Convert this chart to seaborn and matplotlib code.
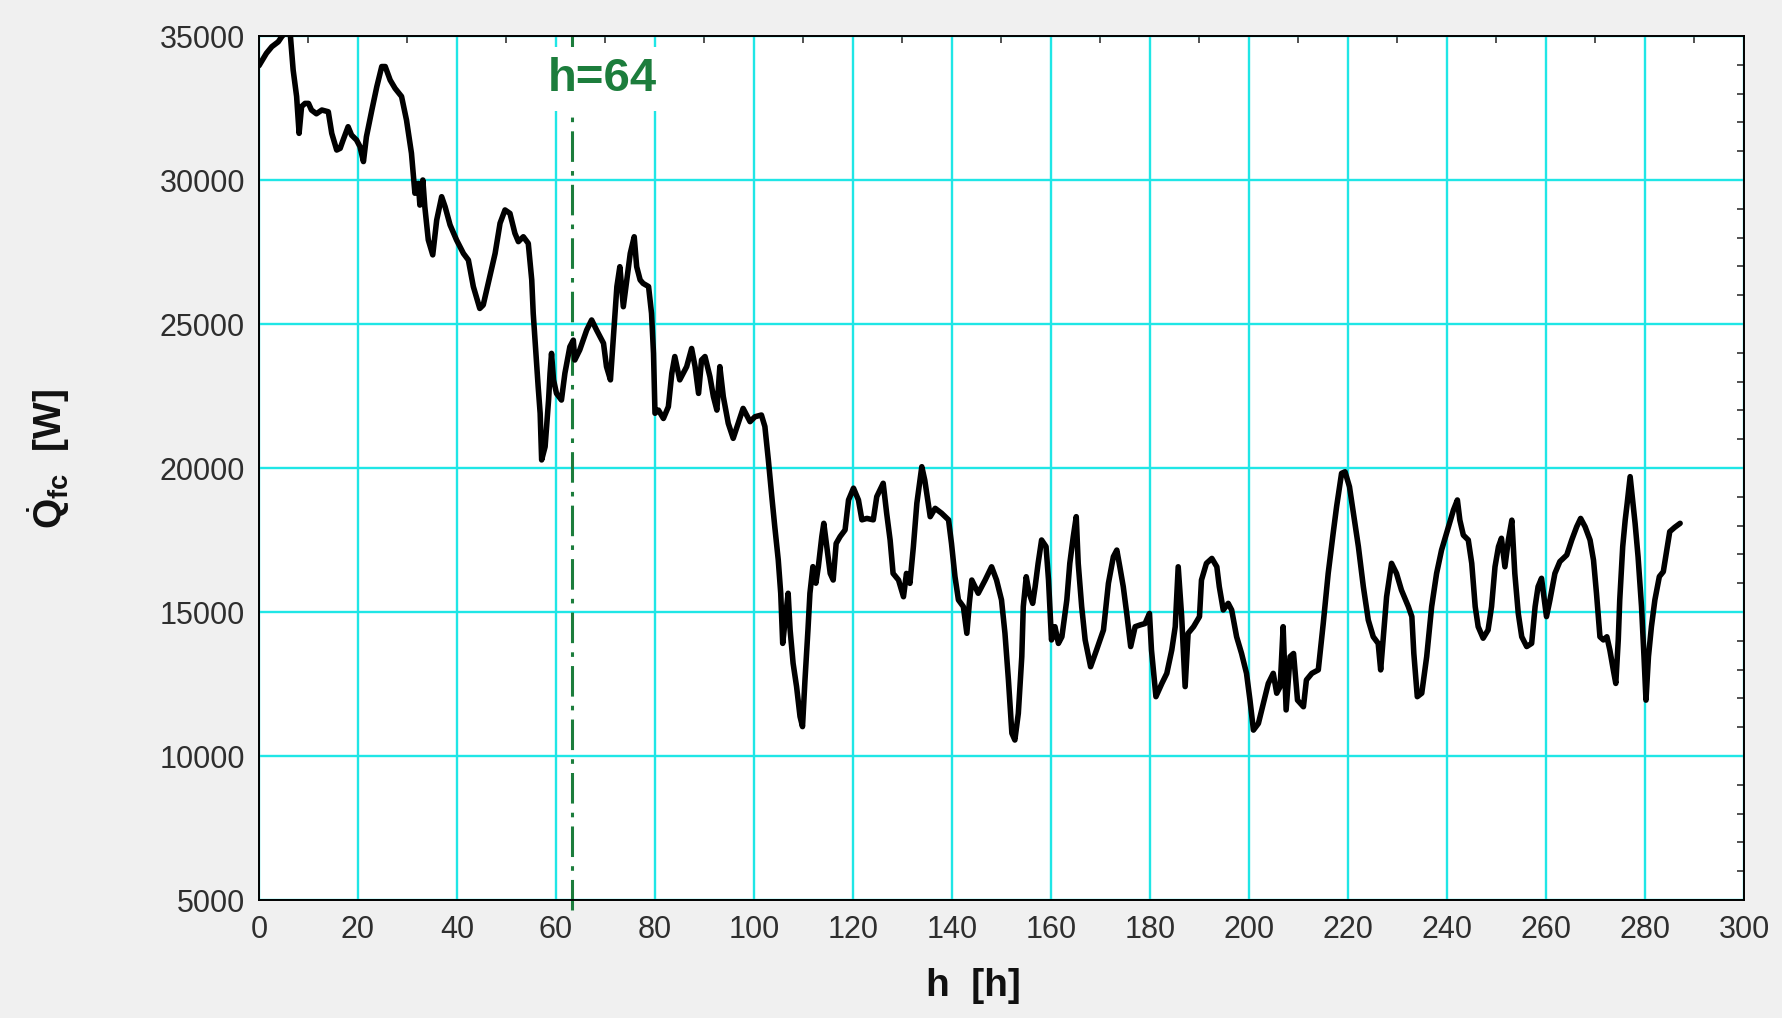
import matplotlib
matplotlib.use("Agg")
import matplotlib.pyplot as plt
from matplotlib.ticker import MultipleLocator
import seaborn as sns
import pandas as pd

# ---- data ----
hours = [0, 1.5, 2.6, 3.9, 4.6, 5.5, 6.3, 6.9, 7.6, 8.1, 8.6, 9.3, 10.0, 10.6, 11.6, 12.7, 14.0,
         14.7, 15.7, 16.4, 17.0, 18.0, 18.7, 19.7, 20.4, 21.1, 21.7, 22.8, 23.8, 24.8, 25.5, 26.5,
         27.5, 28.8, 29.8, 30.8, 31.5, 32.2, 32.5, 33.1, 33.5, 34.2, 35.1, 35.9, 36.9, 37.6, 38.6,
         39.9, 41.3, 42.3, 43.3, 44.6, 45.3, 46.3,
         47.7, 48.7, 49.7, 50.7, 51.7, 52.4, 53.4, 54.4, 55.1, 55.4, 55.8, 56.4, 56.8, 57.1, 57.8,
         58.5, 58.8, 59.1, 59.5, 60.1, 61.1, 61.8, 62.8, 63.5, 63.8, 64.8, 66.2, 67.2, 68.2, 69.6,
         70.2, 71.0, 71.7, 72.3, 72.9, 73.6, 74.3, 75.0, 75.8, 76.3, 77.0, 77.6, 78.7, 79.3, 79.7,
         80.0, 80.7, 81.7, 82.7, 83.4, 84.0, 85.0, 86.4, 87.4, 88.1, 88.8, 89.4, 90.1, 91.1, 91.8,
         92.5, 93.1, 93.8, 94.8, 95.8,
         96.8, 97.8, 99.2, 100.2, 101.5, 102.2, 102.9, 103.6, 104.2, 104.9, 105.4, 105.8, 106.3,
         106.9, 107.3, 107.9, 108.6, 109.3, 109.8, 110.3, 110.9, 111.3, 111.9, 112.5, 113.0, 113.7,
         114.1, 114.7, 115.4, 116.0, 116.6, 117.4, 118.4, 119.1, 120.1, 121.1, 121.8, 122.8, 124.1,
         124.8, 126.1, 126.8, 127.5, 128.1, 129.2, 130.2, 130.8, 131.5, 132.2, 132.9, 133.9, 134.5,
         135.6, 136.6, 137.9, 139.3, 139.9, 140.6, 141.3, 142.3, 143.0, 143.5, 144.0,
         145.3, 146.7, 148.0, 149.0, 150.0, 150.7, 151.4, 152.1, 152.7, 153.4, 154.1, 154.4, 155.0,
         155.6, 156.3, 156.8, 157.4, 158.1, 159.0, 159.5, 160.1, 160.8, 161.5, 162.2, 163.2, 163.8,
         164.5, 165.1, 165.5, 166.2, 166.9, 168.0, 169.2, 170.6, 171.6, 172.6, 173.3, 173.9, 174.6,
         175.3, 176.1, 177.0, 178.0, 179.0, 179.9, 180.3, 181.2, 182.4, 183.4, 184.4, 185.1, 185.7,
         186.4, 187.1, 187.7, 188.8, 190.0, 190.4, 191.4, 192.5, 193.5,
         194.0, 194.8, 195.8, 196.5, 197.5, 198.5, 199.5, 200.2, 200.9, 201.9, 202.9, 203.9, 204.9,
         205.6, 206.3, 206.9, 207.5, 208.3, 209.0, 209.8, 211.0, 211.6, 212.7, 214.0, 215.0, 216.0,
         217.0, 217.7, 218.7, 219.4, 220.3, 221.1, 222.1, 223.1, 224.1, 225.1, 226.1, 226.6, 227.1,
         227.8, 228.8, 229.8, 230.8, 232.2, 232.9, 233.3, 234.0, 234.9, 235.9, 236.9, 237.9, 238.9,
         240.3,
         241.3, 242.1, 242.6, 243.3, 244.3, 245.0, 245.7, 246.3, 247.3, 248.3, 249.0, 249.7, 250.4,
         251.0, 251.7, 252.4, 253.1, 253.7, 254.4, 255.1, 256.1, 257.1, 257.8, 258.4, 259.1, 260.1,
         260.8, 261.8, 262.8, 264.2, 265.2, 266.2, 267.0, 267.9, 268.9, 269.6, 270.2, 270.9, 271.6,
         272.3, 272.9, 273.6, 274.1, 274.6, 274.9, 275.5, 276.0, 276.4, 277.0, 277.5, 278.0, 278.6,
         279.3, 279.8, 280.2, 280.7, 281.3, 282.0, 282.9, 283.7, 284.4, 285.0, 286.0, 287.1]

q_fc = [33970, 34400, 34630, 34800, 34980, 35150, 35100, 33820, 32900, 31620, 32550, 32660, 32660,
        32430, 32300, 32430, 32370, 31620, 31040, 31100, 31390, 31850, 31560, 31390, 31160, 30640,
        31500, 32430, 33240, 33940, 33940, 33470, 33180, 32900, 32080, 30930, 29540, 29880, 29130,
        30000, 29070, 27920, 27400, 28610, 29420, 29070, 28440, 27920, 27450, 27220, 26300, 25540,
        25660, 26410,
        27450, 28500, 28960, 28840, 28150, 27860, 28030, 27800, 26530, 25370, 24330, 22820, 21900,
        20280, 20740, 22360, 23290, 23980, 23060, 22590, 22360, 23290, 24210, 24440, 23750, 24100,
        24790, 25140, 24790, 24330, 23520, 23060, 24790, 26300, 26990, 25600, 26530, 27450, 28030,
        26990, 26530, 26410, 26300, 25370, 23980, 21900, 22010, 21720, 22130, 23290, 23870, 23060,
        23520, 24150, 23520, 22590, 23750, 23870, 23170, 22480, 22010, 23520, 22480, 21550, 21030,
        21550, 22070, 21610, 21780, 21840, 21440, 20280, 19005, 17960, 16810, 15650, 13910, 14720,
        15650, 14375, 13220, 12410, 11370, 11020, 12640, 14375, 15650, 16575, 16000, 16575, 17620,
        18080, 17270, 16340, 16110, 17380, 17620, 17850, 18890, 19300, 18890, 18200, 18250, 18200,
        19005, 19470, 18430, 17500, 16340, 16110, 15530, 16340, 15995, 17270, 18775, 20045, 19580,
        18310, 18600, 18430, 18200, 17380, 16230, 15420, 15185, 14260, 15300, 16110,
        15650, 16110, 16570, 16110, 15420, 14260, 12640, 10790, 10555, 11480, 13450, 15185, 16225,
        15650, 15300, 15880, 16690, 17500, 17270, 16110, 14030, 14490, 13910, 14140, 15420, 16690,
        17615, 18310, 16690, 15185, 14030, 13100, 13680, 14375, 15995, 16920, 17150, 16575, 15880,
        14950, 13800, 14490, 14550, 14600, 14950, 13680, 12060, 12520, 12870, 13680, 14490, 16570,
        14840, 12410, 14260, 14490, 14840, 16110, 16690, 16860, 16570,
        15880, 15070, 15300, 15070, 14140, 13560, 12870, 11940, 10900, 11130, 11830, 12520, 12870,
        12180, 12410, 14490, 11600, 13450, 13560, 11940, 11710, 12640, 12870, 12990, 14600, 16340,
        17730, 18660, 19815, 19870, 19350, 18430, 17270, 15880, 14720, 14140, 13910, 12990, 14030,
        15530, 16690, 16340, 15760, 15185, 14840, 13560, 12060, 12180, 13450, 15185, 16340, 17150,
        17960,
        18540, 18890, 18190, 17670, 17500, 16690, 15185, 14490, 14090, 14375, 15185, 16570, 17270,
        17560, 16570, 17500, 18190, 16340, 14950, 14140, 13800, 13910, 15185, 15880, 16170, 14840,
        15420, 16340, 16750, 16980, 17500, 17960, 18250, 17960, 17500, 16800, 15650, 14140, 14030,
        14140, 13680, 12990, 12520, 14030, 15420, 17270, 18190, 18770, 19700, 18890, 18080, 16920,
        15185, 13450, 11940, 13450, 14490, 15420, 16230, 16400, 17150, 17790, 17940, 18080]

x_ticks = list(range(0, 301, 20))
y_ticks = list(range(5000, 35001, 5000))
marker_label = "h=64"
marker_h = 63.2          # where the dash-dot marker is drawn in the reference
label_x, label_y = 69.3, 33090

x_label = "h  [h]"
y_label = r"$\dot{\mathbf{Q}}_{\mathbf{fc}}$  [W]"

# ---- style ----
sns.set_style("white")
plt.rcParams["font.family"] = ["Liberation Sans", "DejaVu Sans"]
plt.rcParams["mathtext.fontset"] = "custom"
plt.rcParams["mathtext.rm"] = "Liberation Sans"
plt.rcParams["mathtext.bf"] = "Liberation Sans:bold"
plt.rcParams["mathtext.it"] = "Liberation Sans:italic"

fig = plt.figure(figsize=(17.82, 10.18), dpi=100, facecolor="#F0F0F0")
ax = fig.add_axes([0.14534, 0.11591, 0.83333, 0.84872])
ax.set_facecolor("white")

df = pd.DataFrame({"h": hours, "Q": q_fc})
sns.lineplot(data=df, x="h", y="Q", ax=ax, color="black", linewidth=4.0,
             estimator=None, sort=False, zorder=3)

ax.set_xlim(0, 300)
ax.set_ylim(5000, 35000)
ax.set_xticks(x_ticks)
ax.set_yticks(y_ticks)
ax.xaxis.set_minor_locator(MultipleLocator(10))
ax.yaxis.set_minor_locator(MultipleLocator(1000))

ax.grid(True, which="major", color="#1FE6E6", linewidth=1.7)
ax.set_axisbelow(True)
ax.tick_params(which="both", direction="in", top=True, right=True)
ax.tick_params(which="major", length=0, labelsize=22, labelcolor="#2E2E2E")
ax.tick_params(axis="x", which="major", pad=11)
ax.tick_params(axis="y", which="major", pad=10)
ax.tick_params(which="minor", length=5, width=1.1, color="#222222")
for s in ax.spines.values():
    s.set_color("black")
    s.set_linewidth(1.4)
    s.set_zorder(5)

# marker line and label
ax.axvline(marker_h, ymin=-0.012, ymax=1.0, color="#1C7D3C", linewidth=2.2,
           linestyle=(0, (10, 3, 1.5, 3)), clip_on=False, zorder=2)
ax.text(label_x, label_y, marker_label, ha="center", va="baseline", fontsize=34,
        fontweight="bold", color="#1C7D3C", zorder=6,
        bbox=dict(boxstyle="square,pad=0.22", fc="white", ec="none"))

ax.set_xlabel(x_label, fontsize=28, fontweight="bold", color="#111111")
ax.xaxis.set_label_coords(0.481, -0.079)
ax.set_ylabel(y_label, fontsize=28, fontweight="bold", color="#111111")
ax.yaxis.set_label_coords(-0.126, 0.51)

fig.savefig("out.png", dpi=100, facecolor=fig.get_facecolor())
